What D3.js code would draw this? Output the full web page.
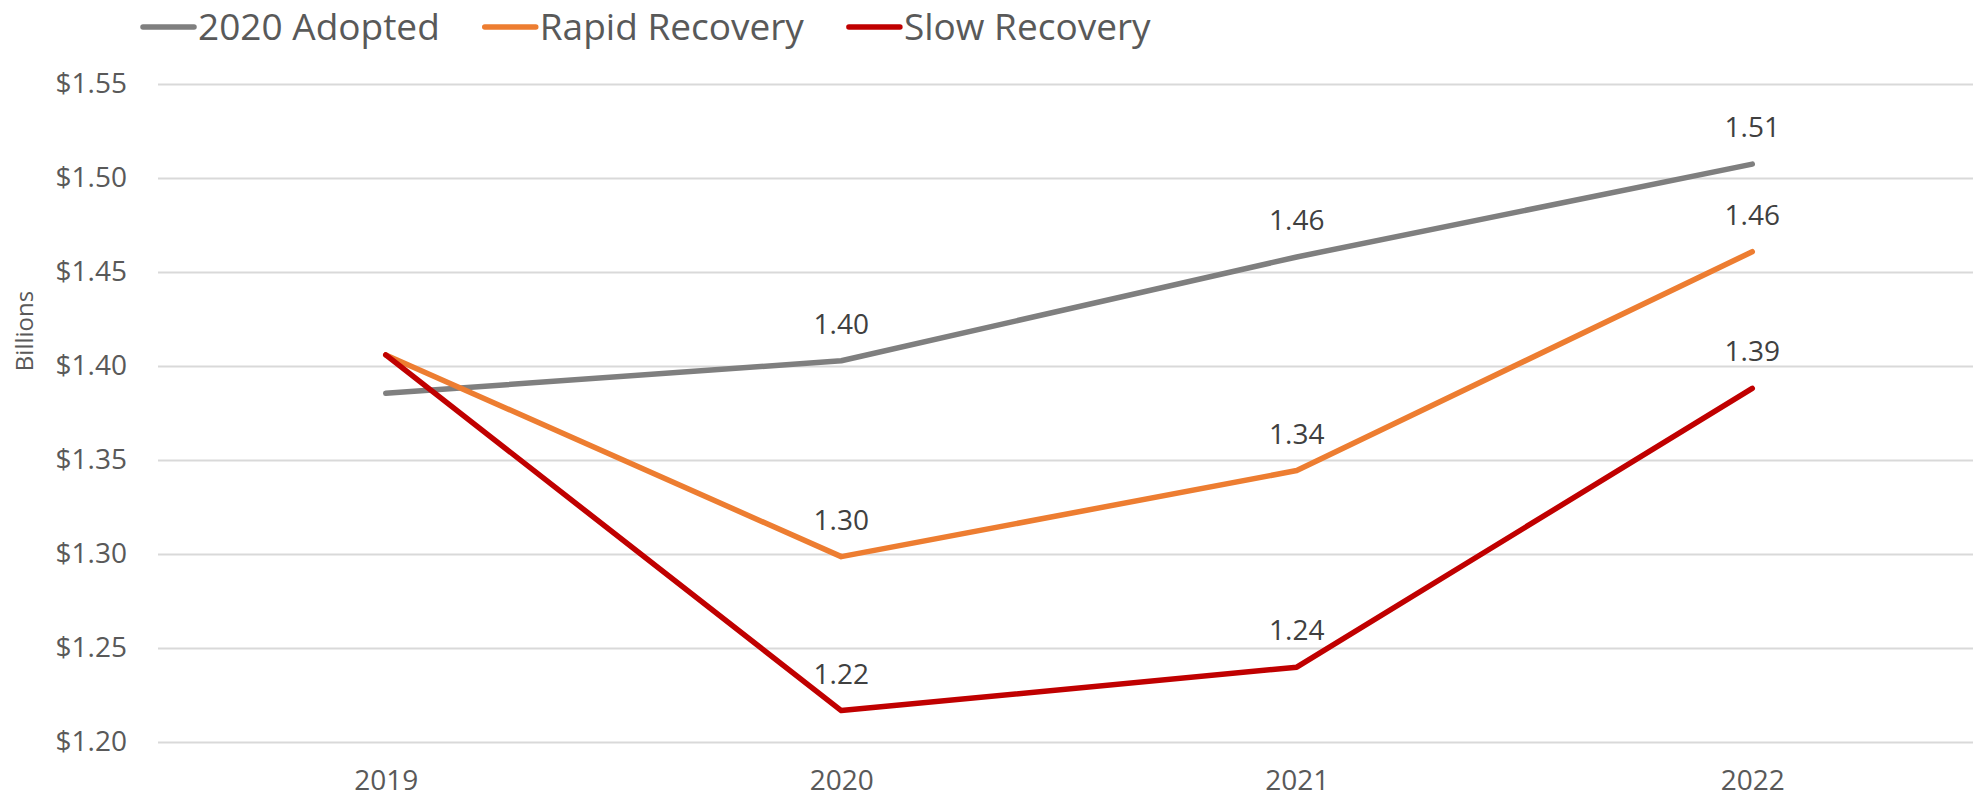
<!DOCTYPE html>
<html>
<head>
<meta charset="utf-8">
<script src="https://cdn.jsdelivr.net/npm/d3@7"></script>
<style>
  html, body { margin: 0; padding: 0; background: #fff; }
  svg { display: block; }
  text { font-family: "Open Sans", sans-serif; }
</style>
</head>
<body>
<svg id="chart" width="1973" height="798"></svg>
<script>
// ---- data ----
const years = ["2019", "2020", "2021", "2022"];
const seriesNames = ["2020 Adopted", "Rapid Recovery", "Slow Recovery"];
const adopted = [1.3855, 1.4028, 1.4580, 1.5074];
const rapid = [1.4059, 1.2986, 1.3444, 1.4608];
const slow = [1.4059, 1.2167, 1.2398, 1.3881];
const labelFlags = [false, true, true, true];
const yTicks = [1.20, 1.25, 1.30, 1.35, 1.40, 1.45, 1.50, 1.55];
const colors = ["#7F7F7F", "#ED7D31", "#C00000"];

const series = [adopted, rapid, slow].map((vals, i) => ({ name: seriesNames[i], values: vals, color: colors[i] }));

// ---- layout ----
const svg = d3.select("#chart");
const plotLeft = 158, plotRight = 1980, plotTop = 84, plotBottom = 742;

const x = d3.scalePoint().domain(years).range([plotLeft, plotRight]).padding(0.5);
const y = d3.scaleLinear().domain([1.20, 1.55]).range([plotBottom, plotTop]);

// gridlines + y tick labels
const yAxis = d3.axisLeft(y)
  .tickValues(yTicks)
  .tickSize(-(plotRight - plotLeft))
  .tickPadding(31)
  .tickFormat(d => "$" + d3.format(".2f")(d));

const gy = svg.append("g").attr("transform", `translate(${plotLeft},0)`).call(yAxis);
gy.select(".domain").remove();
gy.selectAll(".tick line").attr("stroke", "#D9D9D9").attr("stroke-width", 2);
gy.selectAll(".tick text")
  .attr("fill", "#595959")
  .style("font-size", "28px")
  .style("font-family", "'Open Sans', sans-serif");

// x axis labels
const xAxis = d3.axisBottom(x).tickSize(0).tickPadding(0);
const gx = svg.append("g").attr("transform", `translate(0,${plotBottom})`).call(xAxis);
gx.select(".domain").remove();
gx.selectAll(".tick text")
  .attr("fill", "#595959")
  .attr("dy", null)
  .attr("y", 48)
  .style("font-size", "28px")
  .style("font-family", "'Open Sans', sans-serif");

// y axis title
svg.append("text")
  .attr("transform", "translate(33,331) rotate(-90)")
  .attr("text-anchor", "middle")
  .attr("fill", "#595959")
  .style("font-size", "24px")
  .text("Billions");

// lines
const line = d3.line().x((d, i) => x(years[i])).y(d => y(d));
svg.append("g").selectAll("path")
  .data(series)
  .join("path")
  .attr("d", d => line(d.values))
  .attr("fill", "none")
  .attr("stroke", d => d.color)
  .attr("stroke-width", 5.5)
  .attr("stroke-linejoin", "round")
  .attr("stroke-linecap", "round");

// data labels
series.forEach(s => {
  svg.append("g").selectAll("text")
    .data(s.values.map((v, i) => ({ v, i })).filter(d => labelFlags[d.i]))
    .join("text")
    .attr("x", d => x(years[d.i]))
    .attr("y", d => y(d.v) - 27)
    .attr("text-anchor", "middle")
    .attr("fill", "#404040")
    .style("font-size", "28px")
    .text(d => d3.format(".2f")(d.v));
});

// legend
const legend = svg.append("g");
let lx = 140;
series.forEach(s => {
  const g = legend.append("g");
  g.append("line")
    .attr("x1", lx + 3).attr("x2", lx + 54)
    .attr("y1", 27).attr("y2", 27)
    .attr("stroke", s.color).attr("stroke-width", 5.5)
    .attr("stroke-linecap", "round");
  const t = g.append("text")
    .attr("x", lx + 58)
    .attr("y", 40)
    .attr("fill", "#595959")
    .style("font-size", "37px")
    .text(s.name);
  lx = lx + 58 + t.node().getComputedTextLength() + 42;
});
</script>
</body>
</html>
